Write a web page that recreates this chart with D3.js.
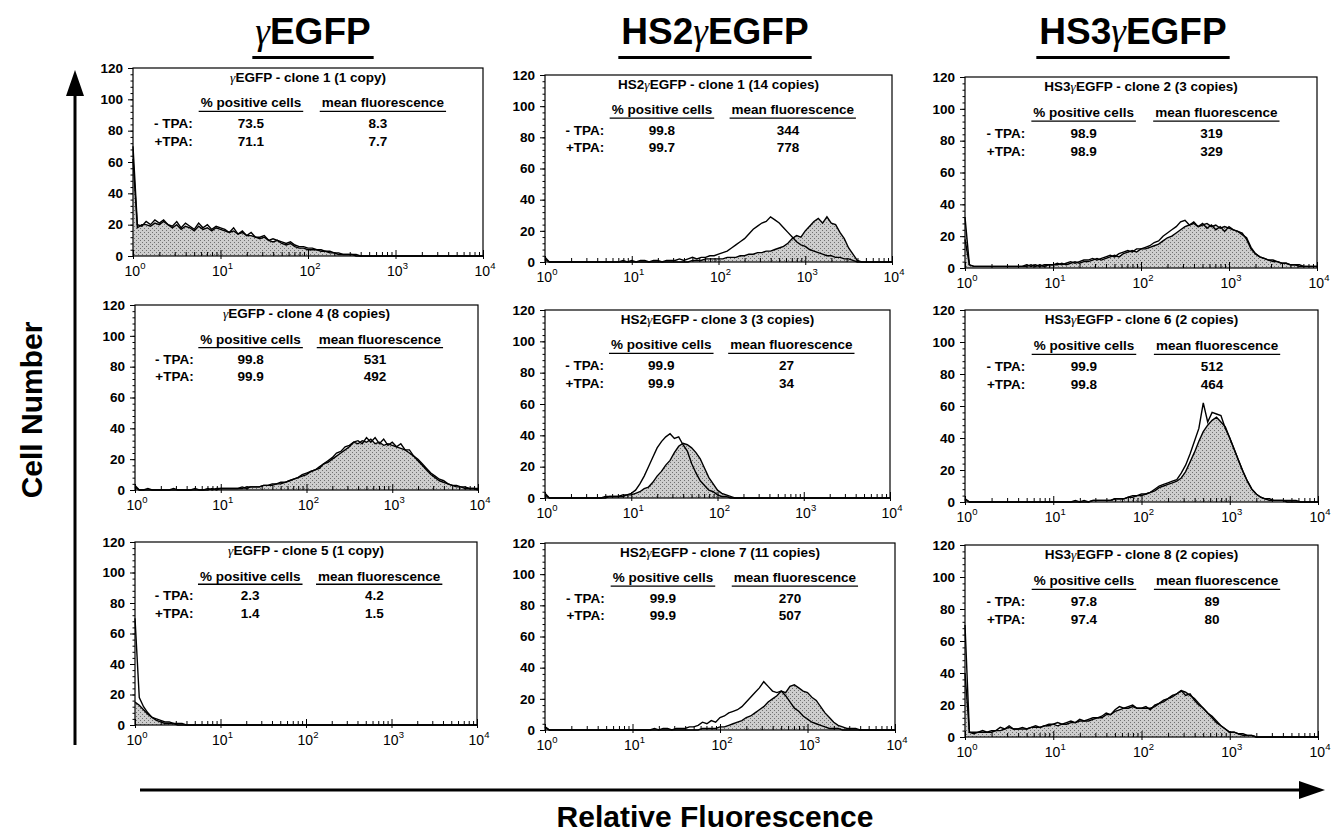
<!DOCTYPE html>
<html>
<head>
<meta charset="utf-8">
<script src="https://cdn.jsdelivr.net/npm/d3@7"></script>
<style>
  body { margin: 0; background: #fff; }
  svg { display: block; font-family: "Liberation Sans", Arial, Helvetica, sans-serif; }
</style>
</head>
<body>
<svg id="chart" width="1333" height="836"></svg>
<script>
// column headings
const constructs = ['γEGFP', 'HS2γEGFP', 'HS3γEGFP'];

// panels, row by row
const panelTitles = [
    'γEGFP - clone 1 (1 copy)', 'HS2γEGFP - clone 1 (14 copies)', 'HS3γEGFP - clone 2 (3 copies)',
    'γEGFP - clone 4 (8 copies)', 'HS2γEGFP - clone 3 (3 copies)', 'HS3γEGFP - clone 6 (2 copies)',
    'γEGFP - clone 5 (1 copy)', 'HS2γEGFP - clone 7 (11 copies)', 'HS3γEGFP - clone 8 (2 copies)'
];
const treatments = ['- TPA:', '+TPA:'];
const pctPositive = [
    ['73.5', '71.1'], ['99.8', '99.7'], ['98.9', '98.9'],
    ['99.8', '99.9'], ['99.9', '99.9'], ['99.9', '99.8'],
    ['2.3', '1.4'], ['99.9', '99.9'], ['97.8', '97.4']
];
const meanFluor = [
    ['8.3', '7.7'], ['344', '778'], ['319', '329'],
    ['531', '492'], ['27', '34'], ['512', '464'],
    ['4.2', '1.5'], ['270', '507'], ['89', '80']
];

// histogram counts, one value per 0.05 log10 bin from 10^0 to 10^4 (81 bins)
const binWidthLog = 0.05;
const histMinusTPA = [
    [70,20,19,22,20,23,21,23,20,19, 22,18,21,19,17,21,18,20,17,19, 18,17,15,18,14,16,13,15,12,12,
     13,10,11,10,9,8,9,7,6,6, 5,5,4,4,3,3,2,2,1,1, 1,1,0,0,0,0,0,0,0,0, 0,0,0,0,0,0,0,0,0,0, 0,0,0,0,0,0,0,0,0,0, 0],
    [3,0,0,0,0,0,0,0,0,0, 0,0,0,0,0,0,0,0,1,0, 1,0,1,1,0,1,1,0,1,1, 1,2,1,2,3,2,3,3,4,4,
     5,6,7,9,11,13,15,18,21,23, 25,26,29,27,25,22,19,16,13,11, 10,8,7,6,5,4,4,3,3,2, 2,1,0,0,0,0,0,0,0,0, 0],
    [18,2,1,1,1,1,1,1,1,1, 1,1,1,1,2,1,2,1,2,2, 2,3,2,3,4,3,4,5,5,6, 5,6,7,8,7,9,10,11,10,12,
     12,13,14,16,17,20,22,24,26,29, 30,27,29,26,28,25,27,24,26,23, 26,24,23,22,18,12,9,7,6,5, 5,4,3,3,2,2,2,1,1,1, 1],
    [3,0,0,1,0,0,0,0,0,1, 0,0,0,0,1,0,0,1,0,1, 1,1,1,1,1,2,1,2,2,2, 3,3,3,4,5,5,6,7,8,10,
     11,12,13,15,17,19,21,24,25,28, 29,31,32,30,34,31,34,30,33,29, 31,28,30,26,26,22,20,17,14,11, 9,7,6,4,3,3,2,2,1,1, 1],
    [3,0,0,0,0,0,0,0,0,0, 0,0,0,0,1,1,1,1,2,2, 3,5,9,14,20,26,32,36,39,41, 38,39,34,30,22,16,11,8,5,4,
     2,1,1,0,0,0,0,0,0,0, 0,0,0,0,0,0,0,0,0,0, 0,0,0,0,0,0,0,0,0,0, 0,0,0,0,0,0,0,0,0,0, 0],
    [2,0,0,0,0,0,0,0,0,0, 0,0,0,0,0,0,0,0,0,0, 0,0,0,0,0,1,0,1,0,1, 1,1,1,1,2,2,2,3,4,4,
     5,5,6,8,10,11,12,13,14,18, 23,30,38,46,62,50,56,55,54,46, 40,33,26,19,13,8,5,3,2,2, 1,1,1,1,1,1,0,0,0,0, 0],
    [70,18,12,8,5,4,3,2,2,1, 1,1,0,0,0,0,0,0,0,0, 0,0,0,0,0,0,0,0,0,0, 0,0,0,0,0,0,0,0,0,0,
     0,0,0,0,0,0,0,0,0,0, 0,0,0,0,0,0,0,0,0,0, 0,0,0,0,0,0,0,0,0,0, 0,0,0,0,0,0,0,0,0,0, 0],
    [2,0,0,0,0,0,0,0,0,0, 0,0,0,0,0,0,0,0,0,0, 0,0,0,0,0,1,0,1,1,0, 1,1,1,2,2,3,5,4,6,5,
     8,9,11,12,13,15,18,21,24,27, 31,28,25,24,25,22,18,14,12,9, 7,5,4,3,2,1,1,1,0,0, 0,0,0,0,0,0,0,0,0,0, 0],
    [70,3,3,3,4,3,4,4,6,5, 7,5,5,6,5,6,7,6,7,8, 8,9,8,9,10,9,11,10,11,12, 12,13,15,14,17,19,18,19,20,18,
     18,19,17,20,21,23,24,26,27,29, 26,27,23,20,18,15,13,10,7,5, 3,3,2,2,1,1,0,0,0,0, 0,0,0,0,0,0,0,0,0,0, 0]
];
const histPlusTPA = [
    [62,18,20,20,19,21,20,22,20,18, 20,17,19,18,16,19,17,18,16,18, 17,16,15,16,14,15,13,13,12,11,
     12,10,9,10,8,7,8,6,5,5, 4,4,4,3,3,2,2,1,1,1, 1,0,0,0,0,0,0,0,0,0, 0,0,0,0,0,0,0,0,0,0, 0,0,0,0,0,0,0,0,0,0, 0],
    [2,0,0,0,0,0,0,0,0,0, 0,0,0,0,0,0,0,0,0,0, 0,0,0,0,0,0,0,0,0,0, 0,0,0,0,1,1,1,2,2,2,
     2,2,3,3,3,4,4,5,5,6, 6,7,7,8,9,10,12,15,17,16, 20,23,26,28,25,29,25,24,19,15, 9,5,1,0,0,0,0,0,0,0, 0],
    [32,2,1,1,1,1,1,1,1,1, 1,1,1,1,1,2,1,2,1,2, 2,2,3,2,3,4,3,4,4,5, 6,5,6,7,8,7,9,10,11,10,
     12,12,13,14,15,17,19,20,22,24, 26,27,28,26,27,28,26,27,25,26, 25,24,23,21,19,13,9,7,6,5, 4,4,3,3,2,2,1,1,1,1, 1],
    [2,0,0,0,0,0,0,0,0,0, 0,0,0,0,0,0,0,0,1,0, 1,1,1,1,1,1,2,2,2,2, 3,3,4,4,4,5,6,7,8,9,
     10,12,13,14,17,18,20,22,24,26, 28,31,30,32,31,33,30,31,29,30, 29,28,27,26,24,22,19,16,13,10, 8,6,5,4,3,2,2,1,1,1, 0],
    [2,0,0,0,0,0,0,0,0,0, 0,0,0,0,0,1,1,1,1,2, 2,3,4,6,7,10,14,17,21,24, 29,33,35,34,32,29,25,19,13,9,
     5,3,2,1,0,0,0,0,0,0, 0,0,0,0,0,0,0,0,0,0, 0,0,0,0,0,0,0,0,0,0, 0,0,0,0,0,0,0,0,0,0, 0],
    [2,0,0,0,0,0,0,0,0,0, 0,0,0,0,0,0,0,0,0,0, 0,0,0,0,0,0,0,0,0,1, 1,1,1,1,2,2,2,3,3,4,
     4,5,6,7,9,10,11,12,13,15, 19,25,31,38,44,48,51,53,50,47, 40,33,26,19,13,8,5,3,2,1, 1,1,1,0,0,0,0,0,0,0, 0],
    [15,13,10,7,5,3,2,1,1,1, 0,0,0,0,0,0,0,0,0,0, 0,0,0,0,0,0,0,0,0,0, 0,0,0,0,0,0,0,0,0,0,
     0,0,0,0,0,0,0,0,0,0, 0,0,0,0,0,0,0,0,0,0, 0,0,0,0,0,0,0,0,0,0, 0,0,0,0,0,0,0,0,0,0, 0],
    [2,0,0,0,0,0,0,0,0,0, 0,0,0,0,0,0,0,0,0,0, 0,0,0,0,0,0,0,0,0,0, 0,0,0,0,0,0,1,1,1,1,
     2,2,3,4,5,6,8,9,11,13, 15,18,20,22,25,24,28,29,27,25, 24,21,19,15,11,8,5,3,2,1, 1,1,0,0,0,0,0,0,0,0, 0],
    [40,3,2,3,3,3,3,4,4,5, 6,5,5,5,5,6,6,6,7,7, 8,7,8,8,9,9,10,10,10,11, 12,12,14,14,16,17,18,18,19,18,
     18,18,18,19,21,22,24,25,27,29, 28,26,24,21,18,15,12,9,7,5, 3,3,2,1,1,1,0,0,0,0, 0,0,0,0,0,0,0,0,0,0, 0]
];

const yTicks = [0, 20, 40, 60, 80, 100, 120];
const decades = [1, 10, 100, 1000, 10000];

// pixel frame of every panel: [left, right, top (120), bottom (0)]
const frames = [
    [133, 483, 68, 256], [545, 892, 75, 262], [965, 1317, 77, 268],
    [135, 478, 305, 490], [545, 890, 310, 498], [965, 1318, 310, 502],
    [135, 477, 542, 725], [545, 895, 543, 730], [965, 1318, 545, 737]
];
const titleX = [313, 715, 1133];

const svg = d3.select('#chart');

// stippled grey for the +TPA histogram
const pat = svg.append('defs').append('pattern')
    .attr('id', 'stipple').attr('patternUnits', 'userSpaceOnUse')
    .attr('width', 4).attr('height', 4);
pat.append('rect').attr('width', 4).attr('height', 4).attr('fill', '#cdcdcd');
pat.append('rect').attr('x', 0).attr('y', 0).attr('width', 1).attr('height', 1).attr('fill', '#707070');
pat.append('rect').attr('x', 2).attr('y', 2).attr('width', 1).attr('height', 1).attr('fill', '#707070');

// text with the gamma set in a symbol-like face
function addText(g, x, y, s, anchor, size, weight) {
    const t = g.append('text')
        .attr('x', x).attr('y', y)
        .attr('text-anchor', anchor || 'middle')
        .attr('font-size', size)
        .attr('font-weight', weight || 'bold')
        .attr('fill', '#000');
    s.split(/(γ)/).filter(p => p.length).forEach(p => {
        const ts = t.append('tspan').text(p);
        if (p === 'γ') {
            ts.attr('font-family', '"Liberation Serif", "DejaVu Serif", serif')
                .attr('font-style', 'italic').attr('font-weight', 'normal');
        }
    });
    return t;
}

// column headings with underline
constructs.forEach((name, c) => {
    const t = addText(svg, titleX[c], 44, name, 'middle', 37);
    const w = t.node().getComputedTextLength();
    svg.append('rect')
        .attr('x', titleX[c] - w / 2 - 3).attr('y', 56)
        .attr('width', w + 6).attr('height', 3).attr('fill', '#000');
});

const minorX = decades.slice(0, 4).flatMap(d => [2, 3, 4, 5, 6, 7, 8, 9].map(m => d * m));

panelTitles.forEach((title, k) => {
    const [x0, x1, y0, y1] = frames[k];
    const x = d3.scaleLog().domain([1, 1e4]).range([x0, x1]);
    const y = d3.scaleLinear().domain([0, 120]).range([y1, y0]);
    const g = svg.append('g').attr('class', 'panel');

    const pts = arr => arr.map((v, i) => [Math.pow(10, i * binWidthLog), v]);
    const area = d3.area().x(d => x(d[0])).y0(y(0)).y1(d => y(d[1]));
    const line = d3.line().x(d => x(d[0])).y(d => y(d[1]));

    g.append('path').attr('d', area(pts(histPlusTPA[k]))).attr('fill', 'url(#stipple)');
    g.append('path').attr('d', line(pts(histPlusTPA[k])))
        .attr('fill', 'none').attr('stroke', '#000').attr('stroke-width', 1.4);
    g.append('path').attr('d', line(pts(histMinusTPA[k])))
        .attr('fill', 'none').attr('stroke', '#000').attr('stroke-width', 1.4);

    g.append('rect')
        .attr('x', x0).attr('y', y0).attr('width', x1 - x0).attr('height', y1 - y0)
        .attr('fill', 'none').attr('stroke', '#000').attr('stroke-width', 1.2);

    // y axis
    const ya = g.append('g').attr('transform', `translate(${x0},0)`)
        .call(d3.axisLeft(y).tickValues(yTicks).tickSize(5).tickPadding(5));
    ya.select('.domain').remove();
    ya.selectAll('text').attr('font-size', 13.5).attr('font-weight', 'bold')
        .attr('font-family', '"Liberation Sans", Arial, sans-serif');
    const ym = g.append('g').attr('transform', `translate(${x0},0)`)
        .call(d3.axisLeft(y).tickValues(d3.range(0, 121, 4)).tickSize(2.5).tickFormat(''));
    ym.select('.domain').remove();

    // x axis
    const xm = g.append('g').attr('transform', `translate(0,${y1})`)
        .call(d3.axisBottom(x).tickValues(minorX).tickSize(-4).tickFormat(''));
    xm.select('.domain').remove();
    const xa = g.append('g').attr('transform', `translate(0,${y1})`)
        .call(d3.axisBottom(x).tickValues(decades).tickSize(3).tickFormat(''));
    xa.select('.domain').remove();
    xa.selectAll('.tick line').attr('y1', -6);
    decades.forEach(d => {
        const t = g.append('text')
            .attr('x', x(d) + 2).attr('y', y1 + 20)
            .attr('text-anchor', 'middle')
            .attr('font-size', 14);
        t.append('tspan').text('10');
        t.append('tspan').attr('dy', -7).attr('font-size', 9.5).text(Math.round(Math.log10(d)));
    });

    // text block
    const w = x1 - x0;
    addText(g, x0 + w * 0.5, y(114.5) + 5, title, 'middle', 13.5);
    [['% positive cells', 0.337], ['mean fluorescence', 0.714]].forEach(([h, f]) => {
        const t = addText(g, x0 + w * f, y(98) + 5, h, 'middle', 13.5);
        const tw = t.node().getComputedTextLength();
        g.append('line')
            .attr('x1', x0 + w * f - tw / 2 - 2).attr('x2', x0 + w * f + tw / 2 + 2)
            .attr('y1', y(92.3)).attr('y2', y(92.3))
            .attr('stroke', '#000').attr('stroke-width', 1.3);
    });
    treatments.forEach((lab, r) => {
        const yy = y(r === 0 ? 85 : 73.7) + 5;
        addText(g, x0 + w * 0.171, yy, lab, 'end', 13.5);
        addText(g, x0 + w * 0.337, yy, pctPositive[k][r], 'middle', 13.5);
        addText(g, x0 + w * 0.70, yy, meanFluor[k][r], 'middle', 13.5);
    });
});

// axis arrows and labels
const arrow = svg.append('g').attr('fill', '#000').attr('stroke', '#000');
arrow.append('line').attr('x1', 75).attr('x2', 75).attr('y1', 745).attr('y2', 92).attr('stroke-width', 3);
arrow.append('path').attr('d', 'M75,70 L66,96 L84,96 Z').attr('stroke', 'none');
arrow.append('line').attr('x1', 140).attr('x2', 1300).attr('y1', 790).attr('y2', 790).attr('stroke-width', 3);
arrow.append('path').attr('d', 'M1325,790 L1299,781 L1299,799 Z').attr('stroke', 'none');

addText(svg, 0, 0, 'Cell Number', 'middle', 30)
    .attr('transform', 'translate(42,410) rotate(-90)');
addText(svg, 715, 827, 'Relative Fluorescence', 'middle', 30);
</script>
</body>
</html>
